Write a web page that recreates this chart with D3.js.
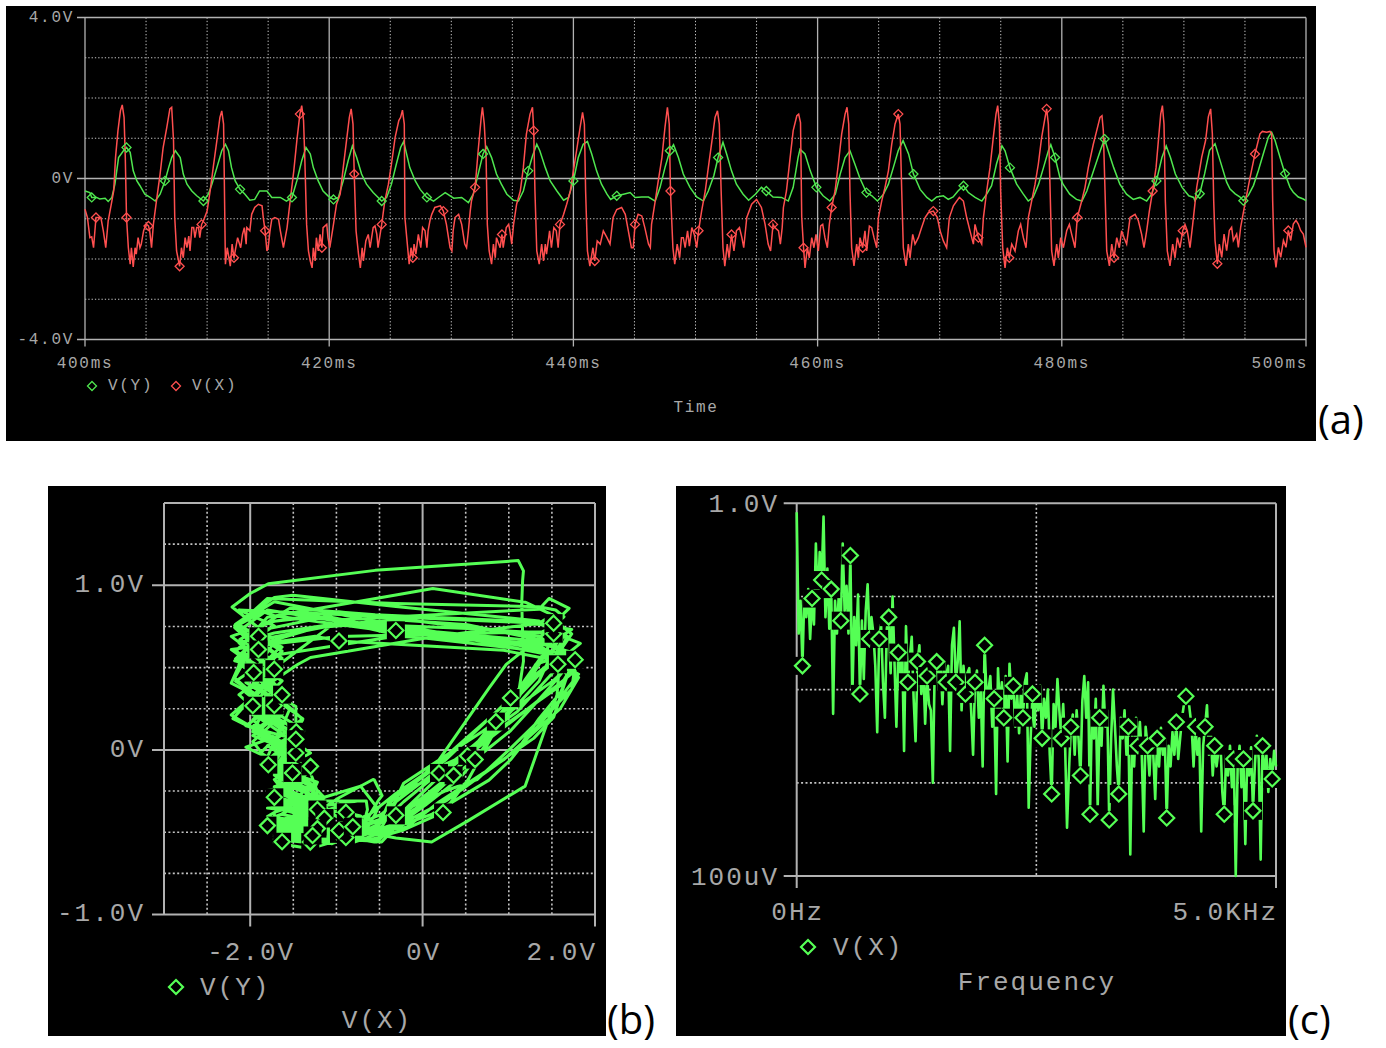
<!DOCTYPE html>
<html>
<head>
<meta charset="utf-8">
<script src="https://d3js.org/d3.v7.min.js"></script>
<style>
  body { margin: 0; background: #fff; }
  svg text { font-family: "Liberation Mono", monospace; fill: #a8a8a8; }
  svg text.tag { font-family: "Open Sans", "Noto Sans", sans-serif; fill: #000; font-size: 40px; letter-spacing: 0; }
</style>
</head>
<body>
<svg id="chart" width="1386" height="1048"></svg>
<script>
// V(X) transient, [ms, V]
const vX = [
  [400.0,-0.76],[400.2,-0.97],[400.4,-1.47],[400.55,-1.45],[400.7,-1.72],[400.9,-0.97],[401.3,-0.97],[401.5,-1.3],[401.7,-1.72],[401.9,-1.05],
  [402.2,-0.56],[402.35,-0.31],[402.5,0.52],[402.7,1.19],[402.9,1.68],[403.05,1.83],[403.2,1.52],[403.3,0.52],[403.4,-0.97],[403.55,-1.72],
  [403.7,-2.13],[403.8,-1.72],[403.95,-2.2],[404.1,-1.72],[404.2,-1.88],[404.35,-1.47],[404.5,-1.72],[404.6,-1.64],[404.8,-1.3],[404.9,-1.22],
  [405.05,-1.14],[405.2,-1.18],[405.3,-1.3],[405.45,-1.72],[405.6,-1.14],[405.85,-0.56],[406.15,0.11],[406.4,0.77],[406.7,1.27],[406.95,1.73],
  [407.1,1.77],[407.25,0.94],[407.35,-0.97],[407.5,-1.8],[407.75,-2.18],[407.9,-1.72],[408.05,-1.97],[408.2,-1.47],[408.35,-1.72],[408.5,-1.43],
  [408.6,-1.8],[408.75,-1.22],[408.9,-1.22],[409.0,-1.47],[409.15,-1.22],[409.3,-1.22],[409.4,-1.47],[409.55,-1.14],[409.7,-1.05],[410.0,-0.81],
  [410.25,-0.31],[410.5,0.27],[410.8,0.94],[411.05,1.52],[411.2,1.68],[411.35,1.35],[411.5,-2.13],[411.65,-1.72],[411.9,-2.18],[412.05,-1.63],
  [412.2,-1.97],[412.5,-1.47],[412.75,-1.72],[412.9,-1.39],[413.05,-1.22],[413.2,-1.63],[413.25,-1.22],[413.5,-1.3],[413.65,-0.89],[413.9,-0.72],
  [414.2,-0.64],[414.5,-0.68],[414.6,-0.97],[414.75,-1.3],[414.9,-1.8],[415.0,-1.72],[415.15,-1.3],[415.3,-1.01],[415.55,-0.97],[415.85,-1.01],
  [416.0,-1.3],[416.25,-1.72],[416.55,-1.22],[416.8,-0.56],[417.1,0.19],[417.35,0.94],[417.6,1.6],[417.75,1.81],[417.9,1.44],[418.0,0.52],
  [418.15,-1.14],[418.3,-1.8],[418.45,-2.05],[418.6,-2.22],[418.7,-1.72],[418.85,-2.05],[418.95,-1.47],[419.1,-1.8],[419.25,-1.39],[419.4,-1.72],
  [419.5,-1.22],[419.8,-1.14],[419.9,-1.47],[420.05,-1.72],[420.35,-1.14],[420.6,-0.64],[420.9,-0.39],[421.15,0.27],[421.45,1.02],[421.65,1.52],
  [421.8,1.73],[421.95,1.35],[422.05,0.11],[422.2,-1.3],[422.4,-1.88],[422.55,-2.22],[422.7,-1.72],[422.8,-2.05],[423.0,-1.55],[423.2,-1.39],
  [423.35,-1.72],[423.6,-1.22],[423.75,-1.18],[423.9,-1.39],[424.0,-1.72],[424.3,-1.14],[424.55,-0.56],[424.85,-0.14],[425.1,0.36],[425.4,1.02],
  [425.7,1.44],[425.85,1.52],[426.0,1.7],[426.15,1.35],[426.2,-0.97],[426.35,-1.47],[426.55,-2.13],[426.7,-1.72],[426.85,-1.97],[426.95,-1.63],
  [427.1,-1.88],[427.3,-1.39],[427.5,-1.72],[427.65,-1.22],[427.85,-1.3],[428.0,-1.72],[428.1,-1.3],[428.25,-1.05],[428.4,-0.89],[428.65,-0.72],
  [429.1,-0.68],[429.35,-0.81],[429.6,-1.14],[429.9,-1.72],[430.05,-1.8],[430.15,-1.3],[430.3,-0.97],[430.6,-0.89],[430.85,-1.14],[431.1,-1.63],
  [431.25,-1.72],[431.4,-1.3],[431.55,-0.81],[431.65,-0.56],[431.95,-0.22],[432.2,0.69],[432.45,1.52],[432.55,1.77],[432.7,1.35],[432.85,0.52],
  [432.95,-1.14],[433.1,-1.8],[433.3,-2.13],[433.45,-1.63],[433.6,-1.97],[433.7,-1.47],[434.0,-1.72],[434.15,-1.39],[434.25,-1.72],[434.5,-1.22],
  [434.7,-1.14],[434.8,-1.3],[434.95,-1.63],[435.1,-1.14],[435.35,-0.64],[435.65,-0.31],[435.9,0.27],[436.15,1.1],[436.45,1.6],[436.65,1.77],
  [436.75,1.19],[436.85,-0.31],[437.0,-1.8],[437.2,-2.13],[437.4,-1.63],[437.55,-2.05],[437.7,-1.63],[437.8,-1.88],[438.05,-1.3],[438.2,-1.72],
  [438.4,-1.22],[438.6,-1.3],[438.75,-1.72],[438.9,-1.14],[439.2,-0.89],[439.45,-0.64],[439.75,-0.31],[440.0,0.19],[440.3,0.77],[440.55,1.27],
  [440.75,1.64],[440.9,1.35],[441.0,-0.31],[441.15,-1.8],[441.35,-2.18],[441.6,-1.72],[441.75,-2.05],[441.95,-1.55],[442.2,-1.63],[442.45,-1.3],
  [442.75,-1.47],[443.0,-1.63],[443.25,-0.97],[443.55,-0.77],[443.95,-0.72],[444.25,-0.89],[444.5,-1.3],[444.75,-1.72],[444.9,-1.72],[445.05,-1.14],
  [445.3,-0.89],[445.6,-0.93],[445.85,-1.22],[446.15,-1.63],[446.3,-1.72],[446.4,-1.14],[446.7,-0.56],[446.95,-0.06],[447.25,0.52],[447.5,1.27],
  [447.7,1.77],[447.85,1.35],[447.95,-0.31],[448.15,-1.72],[448.3,-2.13],[448.5,-1.63],[448.7,-1.97],[448.85,-1.47],[449.0,-1.47],[449.15,-1.72],
  [449.35,-1.3],[449.5,-1.68],[449.7,-1.22],[449.9,-1.39],[450.1,-1.72],[450.25,-1.3],[450.5,-0.81],[450.8,-0.31],[451.05,0.27],[451.35,0.94],
  [451.6,1.52],[451.8,1.68],[451.95,1.35],[452.1,-0.31],[452.25,-1.72],[452.4,-2.18],[452.6,-1.63],[452.75,-1.97],[452.95,-1.39],[453.15,-1.8],
  [453.35,-1.3],[453.6,-1.22],[453.8,-1.47],[453.95,-1.72],[454.2,-0.97],[454.6,-0.64],[455.0,-0.52],[455.4,-0.72],[455.7,-1.14],[455.95,-1.63],
  [456.15,-1.8],[456.35,-1.14],[456.5,-1.22],[456.8,-1.3],[456.95,-1.63],[457.1,-1.22],[457.2,-0.72],[457.45,-0.31],[457.75,0.52],[458.0,1.19],
  [458.3,1.56],[458.45,1.6],[458.6,1.39],[458.7,-0.97],[458.85,-1.72],[458.97,-2.22],[459.16,-1.72],[459.32,-1.97],[459.52,-1.47],[459.7,-1.72],
  [459.87,-1.39],[460.06,-1.8],[460.25,-1.18],[460.42,-1.14],[460.6,-1.47],[460.8,-1.72],[460.96,-1.14],[461.15,-0.72],[461.43,-0.31],[461.7,0.36],
  [461.97,1.1],[462.25,1.6],[462.41,1.77],[462.55,1.35],[462.65,-0.31],[462.79,-1.72],[462.98,-2.17],[463.2,-1.63],[463.34,-1.97],[463.47,-1.47],
  [463.69,-1.72],[463.88,-1.3],[464.02,-1.8],[464.24,-1.18],[464.43,-1.22],[464.62,-1.47],[464.84,-1.72],[464.98,-0.97],[465.25,-0.56],[465.52,-0.22],
  [465.8,0.19],[466.07,0.85],[466.34,1.35],[466.61,1.6],[466.75,1.35],[466.89,-0.31],[467.02,-1.72],[467.24,-2.17],[467.43,-1.63],[467.57,-1.97],
  [467.79,-1.39],[467.98,-1.63],[468.25,-1.47],[468.52,-1.22],[468.8,-0.97],[469.07,-0.85],[469.48,-0.81],[469.81,-0.97],[470.03,-1.3],[470.3,-1.55],
  [470.57,-1.72],[470.79,-0.97],[471.12,-0.68],[471.61,-0.47],[471.94,-0.56],[472.21,-0.97],[472.48,-1.3],[472.76,-1.63],[472.89,-1.14],[473.17,-1.47],
  [473.44,-1.63],[473.58,-0.97],[473.85,-0.31],[474.12,0.27],[474.39,1.02],[474.61,1.6],[474.75,1.81],[474.89,1.35],[474.99,-0.31],[475.16,-1.72],
  [475.35,-2.22],[475.54,-1.72],[475.7,-1.97],[475.9,-1.63],[476.17,-1.8],[476.44,-1.3],[476.63,-1.14],[476.85,-1.47],[477.07,-1.72],[477.26,-0.97],
  [477.53,-0.56],[477.81,-0.14],[478.08,0.36],[478.35,1.02],[478.63,1.52],[478.76,1.73],[478.9,1.35],[479.03,-0.14],[479.17,-1.8],[479.36,-2.17],
  [479.58,-1.63],[479.72,-1.97],[479.91,-1.47],[480.13,-1.72],[480.4,-1.3],[480.62,-1.14],[480.81,-1.39],[481.08,-1.72],[481.27,-0.97],[481.63,-0.56],
  [481.9,-0.22],[482.17,0.27],[482.58,0.85],[482.86,1.19],[483.13,1.52],[483.29,1.56],[483.4,1.19],[483.54,-0.31],[483.68,-1.8],[483.9,-2.17],
  [484.09,-1.63],[484.28,-1.97],[484.5,-1.47],[484.71,-1.72],[484.9,-1.3],[485.1,-1.47],[485.31,-1.63],[485.59,-0.97],[486.0,-0.89],[486.27,-1.05],
  [486.54,-1.39],[486.73,-1.72],[486.95,-1.3],[487.17,-0.81],[487.44,-0.31],[487.72,0.27],[487.91,0.94],[488.1,1.6],[488.24,1.81],[488.37,1.35],
  [488.48,-0.56],[488.64,-1.8],[488.86,-2.17],[489.08,-1.63],[489.27,-1.97],[489.46,-1.47],[489.68,-1.72],[489.9,-1.3],[490.09,-1.14],[490.28,-1.3],
  [490.5,-1.72],[490.72,-1.14],[491.05,-0.22],[491.46,0.53],[491.78,0.95],[492.0,1.53],[492.19,1.73],[492.33,1.11],[492.44,-0.55],[492.55,-1.54],
  [492.74,-2.12],[492.9,-1.63],[493.1,-1.96],[493.29,-1.38],[493.5,-1.79],[493.72,-1.29],[493.91,-1.21],[494.05,-1.54],[494.32,-1.38],[494.46,-1.71],
  [494.65,-1.21],[495.0,-0.63],[495.42,0.03],[495.82,0.61],[496.23,1.11],[496.43,1.17],[496.78,1.15],[497.05,1.17],[497.19,1.11],[497.27,-0.55],
  [497.38,-1.79],[497.54,-2.21],[497.74,-1.71],[497.93,-1.96],[498.15,-1.54],[498.36,-1.71],[498.55,-1.29],[498.75,-1.54],[498.96,-1.13],[499.18,-1.04],
  [499.37,-1.13],[499.56,-1.29],[499.78,-1.38],[500.0,-1.71]
];

// V(Y) transient, [ms, V]
const vY = [
  [400.0,-0.31],[400.4,-0.35],[400.55,-0.47],[400.95,-0.47],[401.2,-0.51],[401.65,-0.49],[401.9,-0.57],[402.2,-0.47],[402.45,-0.14],[402.75,0.52],
  [403.15,0.69],[403.4,0.77],[403.7,0.65],[403.95,0.19],[404.25,-0.06],[404.5,-0.18],[404.9,-0.39],[405.3,-0.46],[405.75,-0.56],[406.15,-0.39],
  [406.55,-0.06],[406.85,0.27],[407.1,0.52],[407.4,0.69],[407.8,0.52],[408.05,0.11],[408.35,-0.14],[408.75,-0.31],[409.15,-0.43],[409.7,-0.56],
  [410.1,-0.39],[410.4,-0.14],[410.8,0.27],[411.2,0.69],[411.5,0.85],[411.75,0.69],[412.0,0.27],[412.3,-0.06],[412.7,-0.27],[413.1,-0.39],
  [413.5,-0.54],[413.9,-0.52],[414.3,-0.31],[414.9,-0.31],[415.3,-0.47],[416.0,-0.47],[416.5,-0.56],[416.95,-0.47],[417.35,-0.06],[417.75,0.44],
  [418.1,0.77],[418.45,0.61],[418.7,0.27],[419.1,-0.06],[419.5,-0.31],[419.9,-0.43],[420.35,-0.52],[420.75,-0.47],[421.15,-0.06],[421.55,0.44],
  [421.9,0.81],[422.25,0.52],[422.65,0.11],[423.05,-0.14],[423.6,-0.35],[424.3,-0.56],[424.7,-0.47],[425.1,-0.14],[425.5,0.36],[425.85,0.77],
  [426.1,0.92],[426.6,0.27],[427.05,-0.06],[427.45,-0.27],[428.0,-0.47],[428.55,-0.56],[429.0,-0.46],[429.5,-0.35],[430.2,-0.49],[430.85,-0.47],
  [431.4,-0.6],[431.8,-0.39],[432.2,0.11],[432.6,0.61],[432.9,0.79],[433.3,0.52],[433.7,0.11],[434.1,-0.14],[434.55,-0.39],[435.1,-0.54],
  [435.5,-0.56],[435.9,-0.31],[436.3,0.19],[436.65,0.56],[437.0,0.85],[437.25,0.69],[437.7,0.27],[438.1,-0.06],[438.65,-0.31],[439.2,-0.54],
  [439.6,-0.47],[440.0,-0.06],[440.4,0.52],[440.8,0.85],[441.15,0.92],[441.5,0.61],[441.9,0.19],[442.3,-0.14],[442.75,-0.39],[443.05,-0.52],
  [443.55,-0.43],[444.1,-0.39],[444.65,-0.35],[445.05,-0.47],[445.6,-0.46],[446.15,-0.46],[446.7,-0.56],[447.1,-0.22],[447.5,0.27],[447.9,0.69],
  [448.2,0.84],[448.6,0.52],[449.0,0.11],[449.55,-0.22],[450.1,-0.46],[450.65,-0.56],[451.05,-0.31],[451.5,0.07],[451.85,0.52],[452.25,0.9],
  [452.55,0.61],[452.95,0.19],[453.35,-0.14],[453.9,-0.39],[454.35,-0.54],[454.9,-0.39],[455.4,-0.22],[455.8,-0.31],[456.35,-0.46],[457.05,-0.47],
  [457.6,-0.56],[458.0,-0.22],[458.4,0.52],[458.56,0.73],[458.97,0.61],[459.4,0.19],[459.9,-0.22],[460.45,-0.43],[461.0,-0.56],[461.45,-0.39],
  [461.85,0.11],[462.25,0.52],[462.65,0.69],[463.05,0.36],[463.45,0.02],[464.0,-0.35],[464.45,-0.43],[464.9,-0.56],[465.4,-0.39],[465.8,-0.14],
  [466.2,0.27],[466.6,0.69],[467.0,0.94],[467.45,0.61],[467.85,0.11],[468.4,-0.27],[468.95,-0.47],[469.35,-0.56],[469.75,-0.46],[470.3,-0.43],
  [470.7,-0.52],[471.1,-0.46],[471.5,-0.31],[471.95,-0.18],[472.35,-0.35],[472.9,-0.47],[473.45,-0.56],[473.85,-0.39],[474.25,-0.18],[474.65,0.36],
  [475.1,0.81],[475.35,0.69],[475.75,0.27],[476.3,-0.14],[476.85,-0.39],[477.25,-0.56],[477.65,-0.47],[478.1,-0.14],[478.5,0.27],[478.9,0.69],
  [479.1,0.84],[479.45,0.52],[479.85,0.02],[480.1,-0.14],[480.65,-0.39],[481.2,-0.52],[481.65,-0.56],[482.05,-0.31],[482.6,0.19],[483.15,0.69],
  [483.5,0.98],[483.8,0.69],[484.25,0.27],[484.75,-0.14],[485.3,-0.39],[485.85,-0.52],[486.4,-0.47],[486.95,-0.56],[487.35,-0.39],[487.75,-0.06],
  [488.2,0.52],[488.55,0.81],[488.9,0.52],[489.3,0.11],[489.85,-0.22],[490.4,-0.43],[490.8,-0.47],[490.9,-0.55],[491.3,-0.38],[491.7,0.12],
  [492.1,0.7],[492.55,0.86],[492.96,0.45],[493.5,-0.09],[493.78,-0.26],[494.2,-0.38],[494.6,-0.46],[494.87,-0.55],[495.28,-0.42],[495.7,-0.17],
  [496.1,0.2],[496.5,0.61],[496.92,1.03],[497.19,1.15],[497.46,0.95],[497.87,0.53],[498.28,0.12],[498.69,-0.22],[498.96,-0.34],[499.37,-0.46],
  [499.78,-0.51],[500.0,-0.55]
];

// FFT of V(X), panel (c): magnitude in mV, one value every 20 Hz from 0 to 5 kHz
const specStepHz = 20;
const specMv = [
  800,40,90,18,110,60,120,35,95,50, 370,80,300,150,720,60,200,45,120,5.5,
  90,40,110,55,370,70,130,40,275,8, 60,30,105,9,55,13,70,135,35,60,
  40,18,3.5,35,50,12,5,45,60,15, 100,20,4,25,10,30,2.2,48,12,22,
  37,8,2.8,20,30,9,18,4.3,14,7, 6,1.0,18,20,10,22,7,20,12,18,
  2.2,30,46,12,20,54,6,18,9,15, 17,6,2,12,16,5,10,1.5,30,9,
  10,14,4,8,0.76,17,6,12,5,14, 1.7,19,8,11,4,9,3.4,10,5,12,
  15,0.54,3,9,4,10,6,11,3,8, 5,10,2,0.76,7,4,13,6,3,7,
  2.5,0.33,1.3,4,5.4,2,6,3,1.2,7.6, 14,5,12,0.46,6,3,8,0.55,5,2.5,
  11,4,6,0.4,3,10,4,1.5,0.76,5, 3,6,2,4,0.17,3.5,1.5,5,2.5,4.5,
  2,0.3,4,2.5,1.2,3.5,2,0.67,3,1.5, 3.9,2,3,0.42,2.5,1.5,3.5,2,4.5,1.8,
  3,5,7,8.5,9.3,6,4,1.5,4,2, 3,0.3,2.5,4,6.8,2,3.5,1.2,2.5,1.5,
  2.2,2.8,0.8,0.46,2,1.2,2.5,0.9,1.8,0.1, 1.5,2.5,0.9,1.8,0.22,2,1.2,2.4,0.5,1.6,
  3.2,1.8,0.15,2.5,1.2,2,0.8,1.8,1.1,2.2,1.5
];

// labelled ticks
const timeTicks = [400, 420, 440, 460, 480, 500];
const aVoltTicks = [4, 0, -4];
const aVoltLabels = ["4.0V", "0V", "-4.0V"];
const bXTicks = [-2, 0, 2];
const bXLabels = ["-2.0V", "0V", "2.0V"];
const bYTicks = [1, 0, -1];
const bYLabels = ["1.0V", "0V", "-1.0V"];

const svg = d3.select("#chart");
const axisColor = "#b2b2b2";
const gridColor = "#c4c4c4";
const redColor = "#ff4f4f";
const greenA = "#4fe64f";
const greenB = "#55ff55";

function diamond(r) { return `M0,${-r}L${r},0L0,${r}L${-r},0Z`; }

function vline(g, x, y1, y2, dotted, w) {
  g.append("line").attr("x1", x).attr("x2", x).attr("y1", y1).attr("y2", y2)
    .attr("stroke", dotted ? gridColor : axisColor).attr("stroke-width", w)
    .attr("stroke-dasharray", dotted ? (w > 1.2 ? "2 2.4" : "1.3 2") : null);
}
function hline(g, y, x1, x2, dotted, w) {
  g.append("line").attr("y1", y).attr("y2", y).attr("x1", x1).attr("x2", x2)
    .attr("stroke", dotted ? gridColor : axisColor).attr("stroke-width", w)
    .attr("stroke-dasharray", dotted ? (w > 1.2 ? "2 2.4" : "1.3 2") : null);
}

// ---------- (a) transient ----------
const ga = svg.append("g");
ga.append("rect").attr("x", 6).attr("y", 6).attr("width", 1310).attr("height", 435).attr("fill", "#000");
const xa = d3.scaleLinear().domain([400, 500]).range([85, 1306]);
const ya = d3.scaleLinear().domain([-4, 4]).range([339.5, 17.5]);

d3.range(405, 500, 5).forEach(t => {
  if (t % 20 === 0) vline(ga, xa(t), ya(4), ya(-4) + 7, false, 1.3);
  else vline(ga, xa(t), ya(4), ya(-4), true, 1);
});
d3.range(-3, 4, 1).forEach(v => {
  if (v === 0) hline(ga, ya(v), xa(400) - 8, xa(500), false, 1.3);
  else hline(ga, ya(v), xa(400), xa(500), true, 1);
});
// frame + ticks
hline(ga, ya(4), xa(400) - 8, xa(500), false, 1.3);
hline(ga, ya(-4), xa(400) - 8, xa(500), false, 1.3);
vline(ga, xa(400), ya(4), ya(-4) + 7, false, 1.3);
vline(ga, xa(500), ya(4), ya(-4) + 7, false, 1.3);

const lineA = d3.line().x(d => xa(d[0])).y(d => ya(d[1]));
ga.append("path").datum(vY).attr("d", lineA).attr("fill", "none").attr("stroke", greenA).attr("stroke-width", 1.5);
ga.append("path").datum(vX).attr("d", lineA).attr("fill", "none").attr("stroke", redColor).attr("stroke-width", 1.5);

ga.append("g").selectAll("path").data(vY.filter((d, i) => i % 9 === 2)).join("path")
  .attr("transform", d => `translate(${xa(d[0])},${ya(d[1])})`).attr("d", diamond(4.5))
  .attr("fill", "none").attr("stroke", greenA).attr("stroke-width", 1.3);
ga.append("g").selectAll("path").data(vX.filter((d, i) => i % 13 === 5)).join("path")
  .attr("transform", d => `translate(${xa(d[0])},${ya(d[1])})`).attr("d", diamond(4.5))
  .attr("fill", "none").attr("stroke", redColor).attr("stroke-width", 1.3);

const aFont = { size: "16px", ls: "1.7px" };
ga.selectAll("text.yl").data(aVoltTicks).join("text").attr("class", "yl")
  .attr("x", 74).attr("y", d => ya(d)).attr("text-anchor", "end").attr("dominant-baseline", "middle")
  .style("font-size", aFont.size).style("letter-spacing", aFont.ls)
  .text((d, i) => aVoltLabels[i]);
ga.selectAll("text.xl").data(timeTicks).join("text").attr("class", "xl")
  .attr("x", d => d === 500 ? xa(d) + 2 : xa(d)).attr("y", 364)
  .attr("text-anchor", d => d === 500 ? "end" : "middle").attr("dominant-baseline", "middle")
  .style("font-size", aFont.size).style("letter-spacing", aFont.ls)
  .text(d => d + "ms");
ga.append("path").attr("transform", "translate(92,386)").attr("d", diamond(4.5))
  .attr("fill", "none").attr("stroke", greenA).attr("stroke-width", 1.3);
ga.append("text").attr("x", 108).attr("y", 386).attr("dominant-baseline", "middle")
  .style("font-size", aFont.size).style("letter-spacing", aFont.ls).text("V(Y)");
ga.append("path").attr("transform", "translate(176,386)").attr("d", diamond(4.5))
  .attr("fill", "none").attr("stroke", redColor).attr("stroke-width", 1.3);
ga.append("text").attr("x", 192).attr("y", 386).attr("dominant-baseline", "middle")
  .style("font-size", aFont.size).style("letter-spacing", aFont.ls).text("V(X)");
ga.append("text").attr("x", 696).attr("y", 408).attr("text-anchor", "middle").attr("dominant-baseline", "middle")
  .style("font-size", aFont.size).style("letter-spacing", aFont.ls).text("Time");
svg.append("text").attr("class", "tag").attr("x", 1318).attr("y", 434).text("(a)");

// ---------- (b) phase plot V(Y) vs V(X), same run ----------
const bisT = d3.bisector(d => d[0]).left;
function valueAt(series, t) {
  const i = bisT(series, t);
  if (i <= 0) return series[0][1];
  if (i >= series.length) return series[series.length - 1][1];
  const a = series[i - 1], b = series[i];
  if (b[0] === t) return b[1];
  return a[1] + (b[1] - a[1]) * (t - a[0]) / (b[0] - a[0]);
}
const phaseTimes = Array.from(new Set(vX.map(d => d[0]).concat(vY.map(d => d[0])))).sort((a, b) => a - b);
const phase = phaseTimes.map(t => [valueAt(vX, t), valueAt(vY, t)]);

const gb = svg.append("g");
gb.append("rect").attr("x", 48).attr("y", 486).attr("width", 558).attr("height", 550).attr("fill", "#000");
const xb = d3.scaleLinear().domain([-3, 2]).range([164, 595]);
const yb = d3.scaleLinear().domain([-1, 1.5]).range([914.5, 503]);

d3.range(-2.5, 2, 0.5).forEach(v => {
  if (v === -2 || v === 0) vline(gb, xb(v), yb(1.5), yb(-1) + 12, false, 2);
  else vline(gb, xb(v), yb(1.5), yb(-1), true, 1.6);
});
d3.range(-0.75, 1.5, 0.25).forEach(v => {
  if (v === 0 || v === 1) hline(gb, yb(v), xb(-3) - 12, xb(2), false, 2);
  else hline(gb, yb(v), xb(-3), xb(2), true, 1.6);
});
hline(gb, yb(1.5), xb(-3), xb(2), false, 2);
hline(gb, yb(-1), xb(-3) - 12, xb(2), false, 2);
vline(gb, xb(-3), yb(1.5), yb(-1), false, 2);
vline(gb, xb(2), yb(1.5), yb(-1) + 12, false, 2);

const lineB = d3.line().x(d => xb(d[0])).y(d => yb(d[1]));
gb.append("path").datum(phase).attr("d", lineB).attr("fill", "none")
  .attr("stroke", greenB).attr("stroke-width", 3).attr("stroke-linejoin", "round");
const bMarks = gb.append("g").selectAll("g").data(phase.filter((d, i) => i % 15 === 7)).join("g")
  .attr("transform", d => `translate(${xb(d[0])},${yb(d[1])})`);
bMarks.append("rect").attr("x", -9).attr("y", -9).attr("width", 18).attr("height", 18).attr("fill", "#000");
bMarks.append("path").attr("d", diamond(7.5)).attr("fill", "none").attr("stroke", greenB).attr("stroke-width", 2.2);

const bFont = { size: "26px", ls: "2px" };
gb.selectAll("text.yl").data(bYTicks).join("text").attr("class", "yl")
  .attr("x", 145).attr("y", d => yb(d)).attr("text-anchor", "end").attr("dominant-baseline", "middle")
  .style("font-size", bFont.size).style("letter-spacing", bFont.ls)
  .text((d, i) => bYLabels[i]);
gb.selectAll("text.xl").data(bXTicks).join("text").attr("class", "xl")
  .attr("x", d => d === 2 ? xb(d) + 2 : xb(d) + 1).attr("y", 953)
  .attr("text-anchor", d => d === 2 ? "end" : "middle").attr("dominant-baseline", "middle")
  .style("font-size", bFont.size).style("letter-spacing", bFont.ls)
  .text((d, i) => bXLabels[i]);
gb.append("path").attr("transform", "translate(176,987)").attr("d", diamond(7))
  .attr("fill", "none").attr("stroke", greenB).attr("stroke-width", 2.2);
gb.append("text").attr("x", 200).attr("y", 988).attr("dominant-baseline", "middle")
  .style("font-size", bFont.size).style("letter-spacing", bFont.ls).text("V(Y)");
gb.append("text").attr("x", 377).attr("y", 1021).attr("text-anchor", "middle").attr("dominant-baseline", "middle")
  .style("font-size", bFont.size).style("letter-spacing", bFont.ls).text("V(X)");
svg.append("text").attr("class", "tag").attr("x", 607).attr("y", 1034).text("(b)");

// ---------- (c) spectrum ----------
const gc = svg.append("g");
gc.append("rect").attr("x", 676).attr("y", 486).attr("width", 610).attr("height", 550).attr("fill", "#000");
const xc = d3.scaleLinear().domain([0, 5000]).range([796.7, 1276]);
const yc = d3.scaleLog().domain([1e-4, 1]).range([876, 503.3]);

vline(gc, xc(2500), yc(1), yc(1e-4), true, 1.6);
[1e-1, 1e-2, 1e-3].forEach(v => hline(gc, yc(v), xc(0), xc(5000), true, 1.6));
hline(gc, yc(1), xc(0) - 13, xc(5000), false, 2);
hline(gc, yc(1e-4), xc(0) - 13, xc(5000), false, 2);
vline(gc, xc(0), yc(1), yc(1e-4) + 12, false, 2);
vline(gc, xc(5000), yc(1), yc(1e-4) + 12, false, 2);

const lineC = d3.line().x((d, i) => xc(i * specStepHz)).y(d => yc(d / 1000));
gc.append("path").datum(specMv).attr("d", lineC).attr("fill", "none")
  .attr("stroke", greenB).attr("stroke-width", 2.6).attr("stroke-linejoin", "round");
const cMarks = gc.append("g").selectAll("g")
  .data(specMv.map((d, i) => [i * specStepHz, d]).filter((d, i) => i % 5 === 3)).join("g")
  .attr("transform", d => `translate(${xc(d[0])},${yc(d[1] / 1000)})`);
cMarks.append("rect").attr("x", -9).attr("y", -9).attr("width", 18).attr("height", 18).attr("fill", "#000");
cMarks.append("path").attr("d", diamond(7.5)).attr("fill", "none").attr("stroke", greenB).attr("stroke-width", 2.2);

gc.append("text").attr("x", 779).attr("y", yc(1) + 2).attr("text-anchor", "end").attr("dominant-baseline", "middle")
  .style("font-size", bFont.size).style("letter-spacing", bFont.ls).text("1.0V");
gc.append("text").attr("x", 779).attr("y", yc(1e-4) + 2).attr("text-anchor", "end").attr("dominant-baseline", "middle")
  .style("font-size", bFont.size).style("letter-spacing", bFont.ls).text("100uV");
gc.append("text").attr("x", xc(0) + 1).attr("y", 913).attr("text-anchor", "middle").attr("dominant-baseline", "middle")
  .style("font-size", bFont.size).style("letter-spacing", bFont.ls).text("0Hz");
gc.append("text").attr("x", xc(5000) + 2).attr("y", 913).attr("text-anchor", "end").attr("dominant-baseline", "middle")
  .style("font-size", bFont.size).style("letter-spacing", bFont.ls).text("5.0KHz");
gc.append("path").attr("transform", "translate(808,947)").attr("d", diamond(7))
  .attr("fill", "none").attr("stroke", greenB).attr("stroke-width", 2.2);
gc.append("text").attr("x", 833).attr("y", 948).attr("dominant-baseline", "middle")
  .style("font-size", bFont.size).style("letter-spacing", bFont.ls).text("V(X)");
gc.append("text").attr("x", 1037).attr("y", 983).attr("text-anchor", "middle").attr("dominant-baseline", "middle")
  .style("font-size", bFont.size).style("letter-spacing", bFont.ls).text("Frequency");
svg.append("text").attr("class", "tag").attr("x", 1288).attr("y", 1034).text("(c)");
</script>
</body>
</html>
